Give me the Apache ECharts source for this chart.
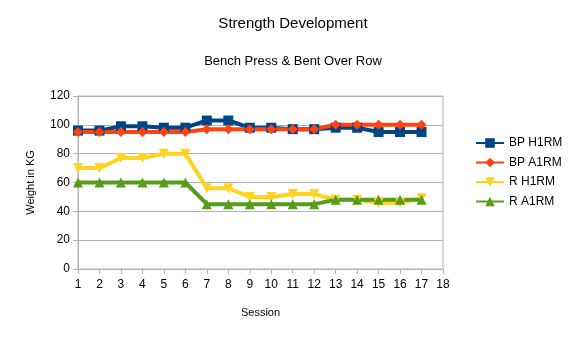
<!DOCTYPE html>
<html><head><meta charset="utf-8">
<script src="https://cdn.jsdelivr.net/npm/echarts@6/dist/echarts.min.js"></script>
<style>html,body{margin:0;padding:0;background:#fff}#c{width:575px;height:339px}</style>
</head><body><div id="c"></div>
<script>
const sessions = [1,2,3,4,5,6,7,8,9,10,11,12,13,14,15,16,17];
const bpH1RM = [96,96,99,99,98,98,103,103,98,98,97,97,98,98,95,95,95];
const bpA1RM = [95,95,95,95,95,95,97,97,97,97,97,97,100,100,100,100,100];
const rH1RM  = [70,70,77,77,80,80,56,56,50,50,52,52,48,48,46,46,49];
const rA1RM  = [60,60,60,60,60,60,45,45,45,45,45,45,48,48,48,48,48];
const yTicks = [0,20,40,60,80,100,120];
const xTicks = [1,2,3,4,5,6,7,8,9,10,11,12,13,14,15,16,17,18];

const font = 'Liberation Sans';
function pairs(v){ return sessions.map((s,i)=>[s,v[i]]); }
function mk(name, data, color, symbol, size){
  return {name, type:'line', data:pairs(data), symbol, symbolSize:size,
    lineStyle:{color, width:4}, itemStyle:{color}, color, animation:false};
}
const chart = echarts.init(document.getElementById('c'), null, {renderer:'canvas'});
chart.setOption({
  animation:false,
  backgroundColor:'#fff',
  title:[
    {text:'Strength Development', left:288, top:11, textAlign:'center',
     textStyle:{fontFamily:font, fontSize:15, fontWeight:'normal', color:'#000'}},
    {text:'Bench Press & Bent Over Row', left:288, top:50, textAlign:'center',
     textStyle:{fontFamily:font, fontSize:13, fontWeight:'normal', color:'#000'}}
  ],
  grid:{left:78, top:96, width:365, height:173, show:true, borderColor:'#b3b3b3', borderWidth:1},
  legend:{orient:'vertical', left:470, top:132, itemWidth:28, itemHeight:12, itemGap:7.5,
    textStyle:{fontFamily:font, fontSize:12, color:'#000'},
    data:['BP H1RM','BP A1RM','R H1RM','R A1RM']},
  xAxis:{type:'value', min:1, max:18, interval:1, name:'Session', nameLocation:'middle', nameGap:38,
    nameTextStyle:{fontFamily:font, fontSize:11, color:'#000'},
    axisLine:{lineStyle:{color:'#b3b3b3'}},
    axisTick:{show:true, length:5, lineStyle:{color:'#b3b3b3'}},
    axisLabel:{fontFamily:font, fontSize:12, color:'#000', margin:10,
      formatter:v=> xTicks.includes(v)? String(v):''},
    splitLine:{show:false}},
  yAxis:{type:'value', min:0, max:120, interval:20, name:'Weight in KG', nameLocation:'middle', nameGap:42,
    nameTextStyle:{fontFamily:font, fontSize:11, color:'#000'},
    axisLine:{show:true, lineStyle:{color:'#b3b3b3'}},
    axisTick:{show:true, length:5, lineStyle:{color:'#b3b3b3'}},
    axisLabel:{fontFamily:font, fontSize:12, color:'#000', margin:8,
      formatter:v=> yTicks.includes(v)? String(v):''},
    splitLine:{show:true, lineStyle:{color:'#b3b3b3', width:1}}},
  series:[
    mk('BP H1RM', bpH1RM, '#004586', 'rect', 10),
    mk('BP A1RM', bpA1RM, '#ff420e', 'diamond', 10),
    mk('R H1RM', rH1RM, '#ffd320', 'path://M0,0 L10,0 L5,9 Z', 10),
    mk('R A1RM', rA1RM, '#579d1c', 'triangle', 10)
  ]
});
</script></body></html>
